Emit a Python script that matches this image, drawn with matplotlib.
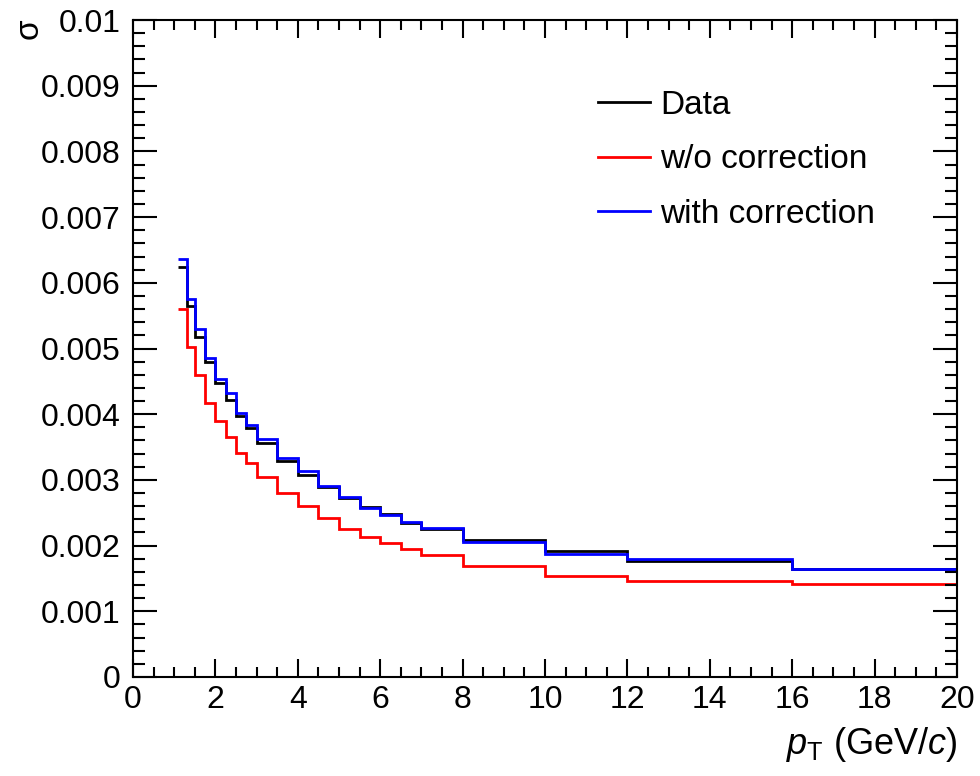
import numpy as np
import matplotlib
matplotlib.use("Agg")
import matplotlib.pyplot as plt
from matplotlib.ticker import MultipleLocator, FuncFormatter

plt.rcParams['font.family'] = ['Liberation Sans', 'DejaVu Sans']
plt.rcParams['mathtext.fontset'] = 'custom'
plt.rcParams['mathtext.rm'] = 'Liberation Sans'
plt.rcParams['mathtext.it'] = 'Liberation Sans:italic'

# pT bin edges (GeV/c)
edges = [1.1, 1.3, 1.5, 1.75, 2.0, 2.25, 2.5, 2.75, 3.0, 3.5, 4.0, 4.5,
         5.0, 5.5, 6.0, 6.5, 7.0, 8.0, 10.0, 12.0, 16.0, 20.0]

sigma_data = [0.00624, 0.00565, 0.00518, 0.00479, 0.00448, 0.00422, 0.00398,
              0.00379, 0.00356, 0.00329, 0.00307, 0.00289, 0.00273, 0.00259,
              0.00248, 0.00235, 0.00225, 0.00209, 0.00192, 0.00177, 0.00164]
sigma_nocorr = [0.00560, 0.00503, 0.00459, 0.00417, 0.00389, 0.00365, 0.00341,
                0.00325, 0.00305, 0.00280, 0.00261, 0.00242, 0.00226, 0.00213,
                0.00204, 0.00195, 0.00186, 0.00169, 0.00154, 0.00146, 0.00142]
sigma_corr = [0.00636, 0.00575, 0.00529, 0.00485, 0.00453, 0.00432, 0.00402,
              0.00384, 0.00362, 0.00334, 0.00314, 0.00290, 0.00274, 0.00257,
              0.00247, 0.00236, 0.00227, 0.00205, 0.00187, 0.00180, 0.00164]

fig = plt.figure(figsize=(9.8, 7.76), dpi=100)
ax = fig.add_axes([133 / 980, 1 - 677 / 776, (957 - 133) / 980, (677 - 20) / 776])

ax.stairs(sigma_data, edges, baseline=None, color='black', lw=2, label='Data')
ax.stairs(sigma_nocorr, edges, baseline=None, color='#ff0000', lw=2, label='w/o correction')
ax.stairs(sigma_corr, edges, baseline=None, color='#0000ff', lw=2, label='with correction')

ax.set_xlim(0, 20)
ax.set_ylim(0, 0.01)
ax.xaxis.set_major_locator(MultipleLocator(2))
ax.xaxis.set_minor_locator(MultipleLocator(0.5))
ax.yaxis.set_major_locator(MultipleLocator(0.001))
ax.yaxis.set_minor_locator(MultipleLocator(0.0002))
ax.yaxis.set_major_formatter(FuncFormatter(lambda v, p: '%g' % round(v, 6)))

ax.tick_params(which='both', direction='in', top=True, right=True, width=1.5,
               labelsize=23)
ax.tick_params(axis='x', which='major', length=13, pad=6)
ax.tick_params(axis='x', which='minor', length=7)
ax.tick_params(axis='y', which='major', length=17, pad=9)
ax.tick_params(axis='y', which='minor', length=8.5)
for s in ax.spines.values():
    s.set_linewidth(1.5)

leg = ax.legend(loc='upper left', bbox_to_anchor=(0.5643, 0.894), frameon=False,
                fontsize=24, handlelength=1.56, handletextpad=0.3,
                labelspacing=0.71, borderpad=0, borderaxespad=0)

fig.text(29 / 980, 1 - 29 / 776, 'σ', rotation=90, fontsize=24,
         ha='center', va='center')
fig.text(958 / 980, 1 - 745 / 776, r'$p_{\mathrm{T}}$ (GeV/$c$)', fontsize=26,
         ha='right', va='center')

fig.savefig('out.png', dpi=100)
